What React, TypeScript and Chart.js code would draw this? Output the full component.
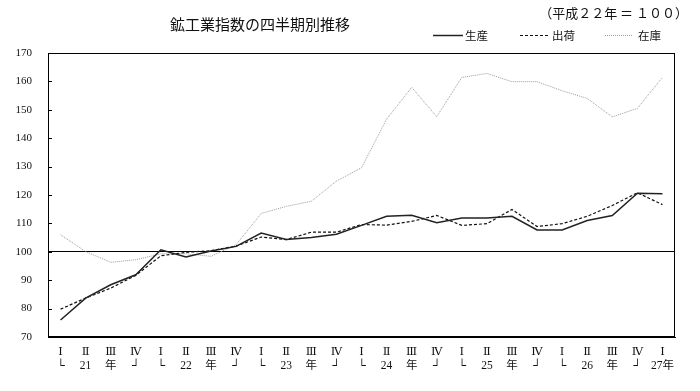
import React, { useEffect, useRef } from "react";
import { Chart, registerables } from "chart.js";

Chart.register(...registerables);

const quarterRow = [
  "Ⅰ", "Ⅱ", "Ⅲ", "Ⅳ",
  "Ⅰ", "Ⅱ", "Ⅲ", "Ⅳ",
  "Ⅰ", "Ⅱ", "Ⅲ", "Ⅳ",
  "Ⅰ", "Ⅱ", "Ⅲ", "Ⅳ",
  "Ⅰ", "Ⅱ", "Ⅲ", "Ⅳ",
  "Ⅰ", "Ⅱ", "Ⅲ", "Ⅳ",
  "Ⅰ",
];
const yearRow = [
  "└", "21", "年", "┘",
  "└", "22", "年", "┘",
  "└", "23", "年", "┘",
  "└", "24", "年", "┘",
  "└", "25", "年", "┘",
  "└", "26", "年", "┘",
  "27年",
];

const production = [76.0, 83.7, 88.4, 91.9, 100.7, 98.2, 100.3, 101.9, 106.6, 104.3, 105.0, 106.2, 109.3, 112.5, 112.9, 110.2, 111.9, 111.9, 112.5, 107.7, 107.7, 111.0, 112.8, 120.6, 120.4];
const shipments = [79.8, 83.7, 87.2, 91.7, 98.6, 99.8, 100.4, 102.0, 105.2, 104.3, 106.9, 106.9, 109.6, 109.4, 110.7, 112.8, 109.3, 109.9, 114.9, 108.9, 109.9, 112.5, 116.3, 120.8, 116.6];
const inventory = [106.0, 100.1, 96.3, 97.2, 99.3, 99.3, 98.4, 102.5, 113.5, 116.0, 117.8, 124.9, 129.6, 146.7, 157.9, 147.6, 161.4, 162.8, 159.9, 159.9, 156.7, 154.0, 147.5, 150.5, 161.4];

const seriesNames = ["生産", "出荷", "在庫"];
const titleText = "鉱工業指数の四半期別推移";
const baseNote = "（平成２２年 ＝ １００）";

const Y_MIN = 70;
const Y_MAX = 170;
const Y_STEP = 10;

const serif = "'Liberation Serif', 'DejaVu Serif', 'Noto Sans CJK JP', serif";
const gothic = "'Noto Sans CJK JP', sans-serif";

const framePlugin = {
  id: "frame",
  beforeDatasetsDraw(chart: any) {
    const ctx = chart.ctx;
    const xs = chart.scales.x;
    const ys = chart.scales.y;
    const l = Math.round(xs.left);
    const r = Math.round(xs.right);
    const t = Math.round(ys.top);
    const b = Math.round(ys.bottom);
    ctx.save();
    ctx.fillStyle = "#000000";
    ctx.fillRect(l, t, r - l, 1);
    ctx.fillRect(l, b, r - l, 1);
    ctx.fillRect(l, t, 1, b - t + 1);
    ctx.fillRect(r - 1, t, 1, b - t + 1);
    for (let v = Y_MIN; v <= Y_MAX; v += Y_STEP) {
      const py = Math.round(ys.getPixelForValue(v));
      ctx.fillRect(l, py, 4, 1);
    }
    ctx.restore();
  },
};

const decorPlugin = {
  id: "decor",
  afterDraw(chart: any) {
    const ctx = chart.ctx;
    ctx.save();
    ctx.fillStyle = "#111";
    ctx.textBaseline = "middle";
    ctx.textAlign = "center";
    ctx.font = `15px ${gothic}`;
    ctx.fillText(titleText, 260, 24);
    ctx.textAlign = "right";
    ctx.font = `13px ${gothic}`;
    ctx.fillText(baseNote, 688, 13);
    const items = [
      { x0: 433, x1: 463, tx: 465 },
      { x0: 520, x1: 548, tx: 552 },
      { x0: 605, x1: 633, tx: 638 },
    ];
    const ly = 35.5;
    chart.data.datasets.forEach((ds: any, i: number) => {
      const it = items[i];
      ctx.beginPath();
      ctx.strokeStyle = ds.borderColor;
      ctx.lineWidth = ds.borderWidth;
      ctx.setLineDash(ds.borderDash || []);
      ctx.moveTo(it.x0, ly);
      ctx.lineTo(it.x1, ly);
      ctx.stroke();
      ctx.setLineDash([]);
      ctx.fillStyle = "#111";
      ctx.textAlign = "left";
      ctx.font = `11.5px ${gothic}`;
      ctx.fillText(ds.label, it.tx, ly);
    });
    ctx.restore();
  },
};

export default function App() {
  const ref = useRef<HTMLCanvasElement | null>(null);
  useEffect(() => {
    document.body.style.margin = "0";
    const canvas = ref.current;
    if (!canvas) return;
    const labels = quarterRow.map((q, i) => [q, yearRow[i]]);
    const chart = new Chart(canvas, {
      type: "line",
      data: {
        labels,
        datasets: [
          {
            label: seriesNames[0],
            data: production,
            borderColor: "#222222",
            borderWidth: 1.5,
            pointRadius: 0,
            tension: 0,
            fill: false,
          },
          {
            label: seriesNames[1],
            data: shipments,
            borderColor: "#111111",
            borderWidth: 1.2,
            borderDash: [3, 2],
            pointRadius: 0,
            tension: 0,
            fill: false,
          },
          {
            label: seriesNames[2],
            data: inventory,
            borderColor: "#9a9a9a",
            borderWidth: 1,
            borderDash: [1, 1],
            pointRadius: 0,
            tension: 0,
            fill: false,
          },
        ],
      },
      options: {
        responsive: false,
        animation: false,
        devicePixelRatio: 1,
        layout: { padding: { top: 53, right: 25, left: 0, bottom: 0 } },
        plugins: {
          legend: { display: false },
          title: { display: false },
          tooltip: { enabled: false },
        },
        scales: {
          x: {
            type: "category",
            offset: true,
            grid: { display: false, drawTicks: false },
            border: { display: true, color: "#000000", width: 1 },
            ticks: {
              autoSkip: false,
              maxRotation: 0,
              minRotation: 0,
              padding: 8,
              color: "#111",
              font: { family: serif, size: 11.5, lineHeight: 1.2 },
            },
            afterFit: (s: any) => {
              s.height = 54;
            },
          },
          y: {
            min: Y_MIN,
            max: Y_MAX,
            grid: {
              drawTicks: false,
              color: (c: any) => (c.tick && c.tick.value === 100 ? "#000" : "rgba(0,0,0,0)"),
              lineWidth: 1,
            },
            border: { display: true, color: "#000000", width: 1 },
            ticks: {
              stepSize: Y_STEP,
              padding: 16,
              color: "#111",
              font: { family: serif, size: 11 },
            },
            afterFit: (s: any) => {
              s.width = 48;
            },
          },
        },
      },
      plugins: [framePlugin, decorPlugin],
    });
    return () => chart.destroy();
  }, []);
  return (
    <div style={{ position: "relative", width: 700, height: 391, background: "#fff" }}>
      <canvas ref={ref} width={700} height={391} />
      <div
        style={{
          position: "absolute",
          left: 48,
          top: 53,
          width: 627,
          height: 284,
          border: "1px solid #000",
          boxSizing: "border-box",
          pointerEvents: "none",
        }}
      />
    </div>
  );
}
